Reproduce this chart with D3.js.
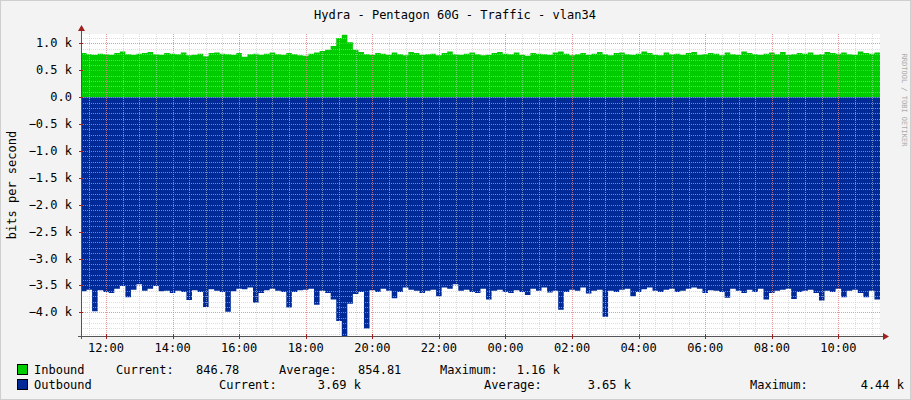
<!DOCTYPE html>
<html><head><meta charset="utf-8">
<script src="https://cdn.jsdelivr.net/npm/d3@7"></script>
<style>body{margin:0;background:#f3f3f3}text{font-family:"DejaVu Sans Mono",monospace;font-size:12px;fill:#000}</style>
</head><body><svg id="c" width="911" height="400"></svg>
<script>
// 10-minute samples starting 11:15
const inbound = [
  820,800,790,810,800,790,820,850,800,790,810,820,840,800,790,820,810,800,830,780,790,810,760,820,830,810,800,790,820,750,800,810,790,810,830,800,790,820,800,780,770,810,830,860,880,950,1100,1160,1020,880,840,800,790,820,810,790,830,800,780,840,820,790,800,810,780,820,850,800,790,810,830,800,780,790,820,840,810,800,830,790,770,820,810,800,790,830,850,810,780,800,820,790,810,840,800,780,820,830,800,790,810,850,820,790,780,830,800,810,790,820,840,790,800,820,810,780,830,800,790,850,820,800,790,810,830,800,840,790,800,820,810,830,790,800,840,820,810,830,800,790,850,820,810,830,
];
const outbound = [
  3610,3580,3980,3590,3620,3640,3560,3510,3720,3580,3480,3600,3560,3510,3610,3600,3640,3600,3620,3770,3590,3620,3900,3570,3600,3620,3990,3610,3560,3570,3540,3820,3640,3590,3560,3600,3620,3910,3620,3590,3580,3560,3860,3600,3640,3760,4160,4440,3840,3660,3620,4300,3590,3620,3560,3600,3740,3620,3540,3580,3600,3640,3600,3580,3700,3540,3560,3480,3600,3580,3620,3640,3560,3760,3600,3580,3620,3640,3590,3620,3680,3560,3600,3540,3630,3600,3950,3620,3580,3600,3540,3650,3600,3580,4080,3600,3620,3580,3560,3700,3620,3570,3540,3600,3620,3580,3560,3620,3600,3560,3540,3560,3640,3590,3600,3620,3730,3560,3600,3640,3580,3620,3560,3760,3640,3600,3580,3560,3750,3620,3600,3580,3640,3780,3600,3620,3560,3720,3600,3580,3640,3720,3600,3760,
];
const yTicks = [1000, 500, 0, -500, -1000, -1500, -2000, -2500, -3000, -3500, -4000];
const legendRows = [
  ['Inbound', '#00cc00', [[116,'Current:'],[196,'846.78'],[279,'Average:'],[358,'854.81'],[440,'Maximum:'],[495,'   1.16 k']]],
  ['Outbound', '#002a97', [[219,'Current:'],[296,'   3.69 k'],[484,'Average:'],[566,'   3.65 k'],[750,'Maximum:'],[839,'   4.44 k']]],
];

const svg = d3.select('#c');
const L = 81, R = 880, T = 34, B = 336;
const t0 = new Date(2020, 0, 1, 11, 15), t1 = new Date(2020, 0, 2, 11, 15);
const x = d3.scaleTime().domain([t0, t1]).range([L, R]);
const y = d3.scaleLinear().domain([-4440, 1175]).range([B, T]);
const times = inbound.map((d, i) => new Date(+t0 + i * 600000));
times.push(t1);

// border
svg.append('rect').attr('x', 0.5).attr('y', 0.5).attr('width', 910).attr('height', 399)
  .attr('fill', '#f3f3f3').attr('stroke', '#cfcfcf');
svg.append('rect').attr('x', L).attr('y', T).attr('width', R - L).attr('height', B - T).attr('fill', '#fff');

// areas
const pts = a => a.concat([a[a.length - 1]]).map((v, i) => [times[i], v]);
const area = d3.area().curve(d3.curveStepAfter).x(d => x(d[0])).y0(y(0));
svg.append('path').datum(pts(inbound)).attr('fill', '#00cc00').attr('d', area.y1(d => y(d[1])));
svg.append('path').datum(pts(outbound)).attr('fill', '#002a97').attr('d', area.y1(d => y(-d[1])));

// grid
const g = svg.append('g');
d3.range(-4400, 1200, 100).forEach(v => {
  const major = v % 500 === 0;
  g.append('line').attr('x1', L).attr('x2', R).attr('y1', Math.round(y(v)) + 0.5).attr('y2', Math.round(y(v)) + 0.5)
    .attr('stroke', major ? '#e08080' : '#c8c8c8').attr('stroke-dasharray', '1,1').attr('opacity', major ? 0.8 : 0.6);
});
d3.timeMinute.every(30).range(t0, t1).forEach(t => {
  if (+t === +t0) return;
  const major = t.getMinutes() === 0 && t.getHours() % 2 === 0;
  const xx = Math.round(x(t)) + 0.5;
  g.append('line').attr('x1', xx).attr('x2', xx).attr('y1', T).attr('y2', B)
    .attr('stroke', major ? '#e08080' : '#c8c8c8').attr('stroke-dasharray', '1,1').attr('opacity', major ? 0.8 : 0.6);
});

// axes
svg.append('line').attr('x1', L - 3).attr('x2', R + 6).attr('y1', B + 0.5).attr('y2', B + 0.5).attr('stroke', '#555');
svg.append('line').attr('x1', L + 0.5).attr('x2', L + 0.5).attr('y1', B + 3).attr('y2', T - 6).attr('stroke', '#555');
svg.append('path').attr('d', `M${R + 3},${B - 3}L${R + 9},${B + 0.5}L${R + 3},${B + 4}Z`).attr('fill', '#a02020');
svg.append('path').attr('d', `M${L - 3},${T - 3}L${L + 0.5},${T - 9}L${L + 4},${T - 3}Z`).attr('fill', '#a02020');
yTicks.forEach(v => {
  svg.append('line').attr('x1', L - 2).attr('x2', L + 2).attr('y1', Math.round(y(v)) + 0.5).attr('y2', Math.round(y(v)) + 0.5).attr('stroke', '#a02020');
  svg.append('text').attr('x', L - 9).attr('y', y(v) + 4).attr('text-anchor', 'end')
    .text(v === 0 ? '0.0' : d3.format('.1f')(v / 1000) + ' k');
});
x.ticks(d3.timeHour.every(2)).forEach(t => {
  svg.append('line').attr('x1', Math.round(x(t)) + 0.5).attr('x2', Math.round(x(t)) + 0.5).attr('y1', B - 2).attr('y2', B + 3).attr('stroke', '#a02020');
  svg.append('text').attr('x', x(t)).attr('y', B + 16).attr('text-anchor', 'middle').text(d3.timeFormat('%H:%M')(t));
});

// titles
svg.append('text').attr('x', 455).attr('y', 19).attr('text-anchor', 'middle').text('Hydra - Pentagon 60G - Traffic - vlan34');
svg.append('text').attr('transform', 'translate(16,185) rotate(-90)').attr('text-anchor', 'middle').text('bits per second');
svg.append('text').attr('transform', 'translate(902,100) rotate(90)').attr('text-anchor', 'middle')
  .style('font-size', '7px').style('fill', '#aaa').text('RRDTOOL / TOBI OETIKER');

// legend
legendRows.forEach((r, i) => {
  const yy = 374 + i * 15;
  svg.append('rect').attr('x', 17.5).attr('y', yy - 9.5).attr('width', 10).attr('height', 10).attr('fill', r[1]).attr('stroke', '#000');
  svg.append('text').attr('x', 34).attr('y', yy).text(r[0]);
  r[2].forEach(c => svg.append('text').attr('x', c[0]).attr('y', yy).attr('xml:space', 'preserve').text(c[1]));
});
</script></body></html>
